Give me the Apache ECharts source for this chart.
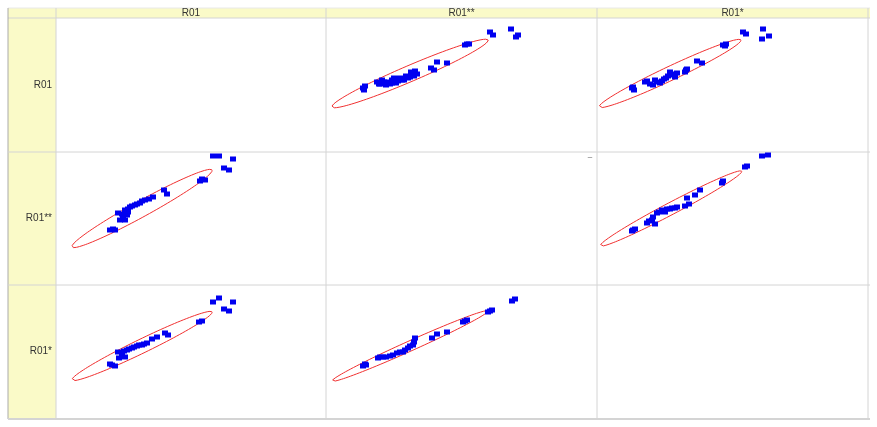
<!DOCTYPE html>
<html><head><meta charset="utf-8">
<script src="https://cdn.jsdelivr.net/npm/echarts@6/dist/echarts.min.js"></script>
<style>html,body{margin:0;padding:0;background:#fff}#c{width:877px;height:427px}</style>
</head><body><div id="c"></div>
<script>
const categories = ['R01', 'R01**', 'R01*'];
// points per cell [x, y] in cell units (row_col)
const pts01 = [[37,64],[39,66],[38,62],[51,70],[53,68],[56,72],[58,70],[62,70],[64,68],[66,72],[70,69],[72,71],[74,74],[76,72],[78,72],[80,76],[82,74],[84,75],[86,77],[87,78],[89,81],[85,80],[91,78],[88,76],[54,68],[60,67],[68,74],[66,69],[105,84],[108,82],[111,90],[121,89],[139,107],[141,108],[143,108],[164,120],[167,117],[185,123],[190,115],[192,117]];
const pts02 = [[35,64],[37,62],[36,65],[48,70],[50,71],[53,68],[58,72],[60,70],[63,69],[65,71],[67,73],[69,74],[71,76],[75,77],[78,75],[73,80],[80,79],[76,78],[56,67],[89,82],[90,83],[88,80],[100,91],[105,89],[126,107],[128,106],[129,108],[146,120],[149,118],[166,123],[165,113],[172,116]];
const pts10 = [[157,129],[163,129],[177,126],[168,117],[173,115],[144,104],[146,106],[149,105],[108,95],[111,91],[97,88],[93,86],[89,85],[86,84],[84,82],[81,81],[79,80],[76,79],[74,78],[72,76],[69,75],[66,71],[71,70],[64,65],[67,67],[69,65],[62,72],[72,73],[54,55],[57,56],[59,55]];
const pts12 = [[165,129],[171,130],[148,118],[150,119],[126,104],[125,102],[103,95],[98,90],[90,87],[88,79],[92,81],[60,72],[62,73],[65,75],[67,74],[70,76],[73,76],[75,77],[78,77],[80,78],[68,73],[50,62],[52,64],[55,65],[58,61],[56,68],[36,55],[35,54],[38,56]];
const pts20 = [[157,116],[163,120],[177,116],[168,109],[173,107],[146,97],[143,96],[109,85],[112,83],[96,79],[101,81],[91,75],[88,74],[86,73],[83,73],[81,72],[78,71],[76,70],[73,69],[71,68],[68,67],[66,65],[62,66],[69,61],[63,60],[66,63],[54,54],[56,53],[59,52]];
const pts21 = [[189,119],[186,117],[166,108],[164,107],[162,106],[141,98],[137,96],[139,97],[121,86],[111,84],[106,80],[89,80],[87,73],[88,76],[82,70],[84,72],[77,66],[79,68],[71,65],[74,66],[64,62],[67,63],[57,61],[60,61],[52,60],[54,61],[39,54],[37,52],[40,53]];
// ellipse: [cx, cy, semi-major, semi-minor, angle deg]
const ell01 = [84,78.5,85,8,23.2];
const ell02 = [73,78.5,78.5,7,25.3];
const ell10 = [86,76.5,80,8,28.8];
const ell12 = [74,76.5,80,6,27.8];
const ell20 = [86,72,78,7,25.9];
const ell21 = [84,72,85.5,5,24.2];

const colX = [56,326,597], colW = [270,271,271];
const rowY = [18,152,285], rowH = [134,133,133];
const cells = [[0,1,pts01,ell01],[0,2,pts02,ell02],[1,0,pts10,ell10],[1,2,pts12,ell12],[2,0,pts20,ell20],[2,1,pts21,ell21]];

function ellipse(e){
  const [cx,cy,a,b,ang]=e, t=ang*Math.PI/180, out=[];
  for(let i=0;i<=120;i++){const s=i/120*2*Math.PI;
    out.push([cx+a*Math.cos(s)*Math.cos(t)-b*Math.sin(s)*Math.sin(t), cy+a*Math.cos(s)*Math.sin(t)+b*Math.sin(s)*Math.cos(t)]);}
  return out;
}
const grid=[],xAxis=[],yAxis=[],series=[];
cells.forEach((c,k)=>{
  const [r,col,p,e]=c;
  grid.push({left:colX[col],top:rowY[r],width:colW[col],height:rowH[r]});
  xAxis.push({gridIndex:k,type:'value',min:0,max:colW[col],show:false});
  yAxis.push({gridIndex:k,type:'value',min:0,max:rowH[r],show:false});
  series.push({type:'line',xAxisIndex:k,yAxisIndex:k,data:ellipse(e),showSymbol:false,smooth:false,lineStyle:{color:'#f03030',width:1},silent:true,z:2});
  series.push({type:'scatter',xAxisIndex:k,yAxisIndex:k,data:p,symbol:'rect',symbolSize:[6,5],itemStyle:{color:'#0000f0',opacity:1},z:3});
});
const Y='#fafac8', L='#d4d4d4';
const g=[
  {type:'rect',shape:{x:8,y:8,width:862,height:10},style:{fill:Y},z:-10},
  {type:'rect',shape:{x:8,y:8,width:48,height:411},style:{fill:Y},z:-10},
  {type:'line',shape:{x1:8,y1:18,x2:870,y2:18},style:{stroke:L,lineWidth:1}},
  {type:'line',shape:{x1:8,y1:8,x2:870,y2:8},style:{stroke:'#e8e8e8',lineWidth:1}},
  {type:'line',shape:{x1:8,y1:8,x2:8,y2:419},style:{stroke:'#aaa',lineWidth:1}},
  {type:'line',shape:{x1:8,y1:419,x2:870,y2:419},style:{stroke:L,lineWidth:2}},
  {type:'line',shape:{x1:56,y1:8,x2:56,y2:419},style:{stroke:L,lineWidth:1}},
  {type:'line',shape:{x1:326,y1:8,x2:326,y2:419},style:{stroke:L,lineWidth:1}},
  {type:'line',shape:{x1:597,y1:8,x2:597,y2:419},style:{stroke:L,lineWidth:1}},
  {type:'line',shape:{x1:868,y1:8,x2:868,y2:419},style:{stroke:L,lineWidth:1}},
  {type:'line',shape:{x1:8,y1:152,x2:870,y2:152},style:{stroke:L,lineWidth:1}},
  {type:'line',shape:{x1:8,y1:285,x2:870,y2:285},style:{stroke:L,lineWidth:1}},
  {type:'text',x:590,y:157,style:{text:'–',fill:'#555',font:'8px "Liberation Sans", Arial',align:'center',verticalAlign:'middle'}}
];
categories.forEach((n,i)=>{
  g.push({type:'text',x:colX[i]+colW[i]/2,y:13.5,style:{text:n,fill:'#333',font:'10px "Liberation Sans", Arial',align:'center',verticalAlign:'middle'}});
  g.push({type:'text',x:52,y:rowY[i]+rowH[i]/2,style:{text:n,fill:'#333',font:'10px "Liberation Sans", Arial',align:'right',verticalAlign:'middle'}});
});
const chart=echarts.init(document.getElementById('c'));
chart.setOption({animation:false,grid,xAxis,yAxis,series,graphic:g});
</script></body></html>
